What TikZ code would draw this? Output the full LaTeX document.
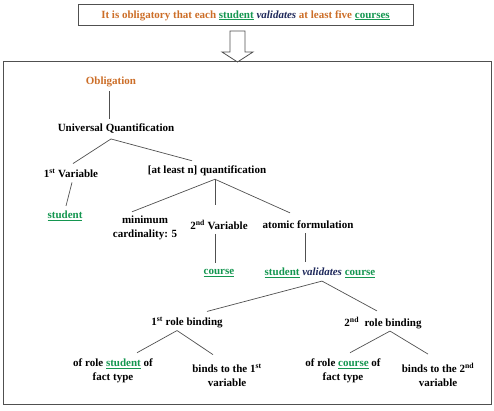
\documentclass[tikz,border=0pt]{standalone}
\usepackage{fontspec}
\setmainfont{Liberation Serif}
\definecolor{oblig}{RGB}{204,110,40}
\definecolor{grn}{RGB}{20,150,80}
\definecolor{navy}{RGB}{30,40,90}
\definecolor{lin}{RGB}{80,80,80}
\newcommand{\gr}[1]{\textcolor{grn}{\underline{#1}}}
\newcommand{\vl}{\textcolor{navy}{\textit{validates}}}
\begin{document}
\begin{tikzpicture}[x=1pt,y=-1pt,
  lbl/.style={font=\fontsize{11}{14}\selectfont\bfseries, inner sep=0pt, align=center},
  edge/.style={draw=lin, line width=0.7pt},
  frame/.style={draw=lin, line width=1pt}]
\useasboundingbox (0,0) rectangle (494,411);
% top sentence box
\node[lbl, frame, minimum width=335, minimum height=21, text=oblig] (top) at (245.5,15.5)
  {It is obligatory that each \gr{student} \vl{} at least five \gr{courses}};
% hollow arrow
\draw[draw=lin, line width=0.8pt, fill=white] (230,31) -- (245,31) -- (245,52) -- (253,52) -- (237.5,62) -- (222,52) -- (230,52) -- cycle;
% main frame
\draw[frame] (3,62) rectangle (491,404);
\node[lbl, text=oblig] (ob) at (111,82) {Obligation};
\node[lbl] (uq) at (116,129) {Universal Quantification};
\node[lbl] (v1) at (71,173) {1\textsuperscript{st} Variable};
\node[lbl] (al) at (207,171) {[at least n] quantification};
\node[lbl] (s1) at (65,216) {\gr{student}};
\node[lbl] (mc) at (145,228) {minimum\\cardinality: 5};
\node[lbl] (v2) at (219,225) {2\textsuperscript{nd} Variable};
\node[lbl] (af) at (308,225) {atomic formulation};
\node[lbl] (c1) at (219,273) {\gr{course}};
\node[lbl] (svc) at (320,273) {\gr{student} \vl{} \gr{course}};
\node[lbl] (rb1) at (187,323) {1\textsuperscript{st} role binding};
\node[lbl] (rb2) at (383,323) {2\textsuperscript{nd}\ \ role binding};
\node[lbl] (or1) at (113,371) {of role \gr{student} of\\fact type};
\node[lbl] (bt1) at (227,375) {binds to the 1\textsuperscript{st}\\variable};
\node[lbl] (or2) at (343,371) {of role \gr{course} of\\fact type};
\node[lbl] (bt2) at (438,375) {binds to the 2\textsuperscript{nd}\\variable};
% connectors
\draw[edge] ([xshift=-2,yshift=-4]ob.south) -- ([xshift=-7,yshift=5]uq.north);
\draw[edge] ([xshift=-5,yshift=-5]uq.south) -- ([xshift=2,yshift=5]v1.north);
\draw[edge] ([xshift=-5,yshift=-5]uq.south) -- ([xshift=-15,yshift=5]al.north);
\draw[edge] ([xshift=1,yshift=-5]v1.south) -- ([xshift=1,yshift=5]s1.north);
\draw[edge] ([xshift=8,yshift=-3]al.south) -- ([xshift=-13,yshift=4]mc.north);
\draw[edge] ([xshift=8,yshift=-3]al.south) -- ([xshift=-4,yshift=15]v2.north);
\draw[edge] ([xshift=8,yshift=-3]al.south) -- ([xshift=-18,yshift=8]af.north);
\draw[edge] ([xshift=-4,yshift=-4]v2.south) -- ([xshift=-4,yshift=6]c1.north);
\draw[edge] ([xshift=-3,yshift=-4]af.south) -- ([xshift=-15,yshift=6]svc.north);
\draw[edge] ([xshift=2,yshift=-3]svc.south) -- ([xshift=20,yshift=6]rb1.north);
\draw[edge] ([xshift=2,yshift=-3]svc.south) -- ([xshift=-6,yshift=6]rb2.north);
\draw[edge] ([xshift=-10,yshift=-2]rb1.south) -- ([xshift=24,yshift=6]or1.north);
\draw[edge] ([xshift=-10,yshift=-2]rb1.south) -- ([xshift=-14,yshift=9]bt1.north);
\draw[edge] ([xshift=7,yshift=-2]rb2.south) -- ([xshift=7,yshift=6]or2.north);
\draw[edge] ([xshift=7,yshift=-2]rb2.south) -- ([xshift=-10,yshift=9]bt2.north);
\end{tikzpicture}
\end{document}
